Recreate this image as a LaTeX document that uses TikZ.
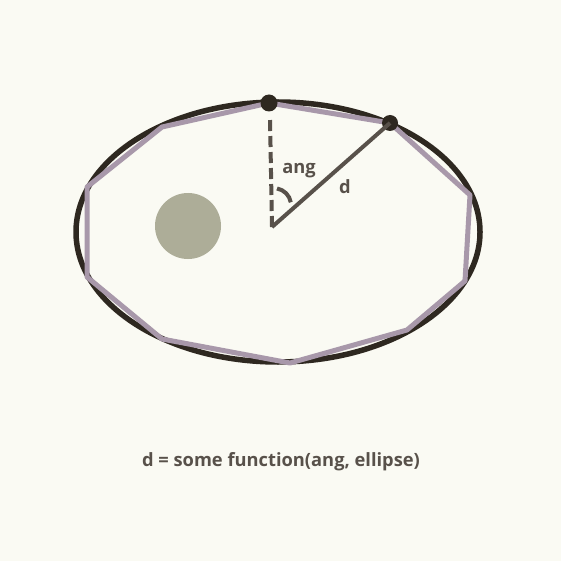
\documentclass[tikz,border=0pt]{standalone}
\usepackage{fontspec}
\setmainfont{Open Sans}
\definecolor{paper}{HTML}{FAFAF3}
\definecolor{rim}{HTML}{2E2820}
\definecolor{poly}{HTML}{A898AA}
\definecolor{ink}{HTML}{58514A}
\definecolor{blob}{HTML}{ADAD98}
\tikzset{
  lbl/.style={text=ink,font=\bfseries\fontsize{18.3}{20}\selectfont,inner sep=0pt},
  ray/.style={ink,line width=4pt},
  spot/.style={fill=rim}
}
\begin{document}
\begin{tikzpicture}[x=1pt,y=-1pt]
                \fill[paper] (0,0) rectangle (561,561);
                \draw[rim,line width=5.5pt] (278,232) ellipse [x radius=202,y radius=130];
                \coordinate (o) at (272,227);
                \coordinate (top) at (269,103);
                \coordinate (tip) at (270,118);
                \coordinate (hit) at (390,123);
                \draw[poly,line width=5pt,line join=round] (269,103) -- (390,123) -- (470,195) -- (465,281) -- (407,330)
                    -- (290,363) -- (162,339) -- (87,277) -- (87,187) -- (162,127) -- cycle;
                \fill[spot] (top) circle (8.5);
                \fill[spot] (hit) circle (8);
                \fill[blob] (188,226) circle (33);
                \draw[ray,dash pattern=on 11pt off 5pt] (o) -- (tip);
                \draw[ray,line join=miter] (o) -- (hit);
                \draw[ink,line width=4pt] (277,188.5) arc [start angle=-80,end angle=-10,radius=17];
                \node[lbl] (ang) at (299,171) {ang};
                \node[lbl] (d) at (345,187) {d};
                \node[lbl] (rule) at (281,462) {d = some function(ang, ellipse)};
            \end{tikzpicture}
\end{document}
